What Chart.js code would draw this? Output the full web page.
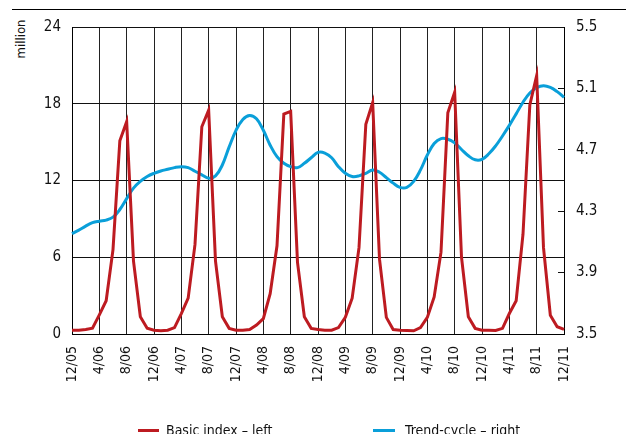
<!DOCTYPE html>
<html>
<head>
<meta charset="utf-8">
<script src="https://cdn.jsdelivr.net/npm/chart.js@4/dist/chart.umd.min.js"></script>
<style>
  html, body { margin: 0; padding: 0; background: #fff; overflow: hidden; }
  body { width: 626px; height: 434px; position: relative; font-family: "Liberation Sans Narrow", "Arial Narrow", "DejaVu Sans Condensed", sans-serif; }
  #rule { position: absolute; left: 12px; right: 0; top: 9px; border-top: 1px solid #000; }
  #unit { position: absolute; left: 20px; top: 39px; font-size: 13px; color: #111;
          transform: translate(-50%, -50%) rotate(-90deg); white-space: nowrap; }
  #wrap { position: absolute; left: 0; top: 0; width: 626px; height: 434px; }
  .leg { position: absolute; top: 422px; font-size: 14px; color: #111; white-space: nowrap; }
  .sw { position: absolute; height: 3px; top: 429px; }
</style>
</head>
<body>
<div id="rule"></div>
<div id="unit">million</div>
<div id="wrap"><canvas id="chart"></canvas></div>
<div class="sw" style="left:138px;width:21px;background:#BD1B21"></div>
<div class="leg" style="left:166px">Basic index – left</div>
<div class="sw" style="left:373px;width:22px;background:#0A9FD9"></div>
<div class="leg" style="left:405px">Trend-cycle – right</div>
<script>
// monthly, 12/05 .. 12/11
const tickLabels = ['12/05', '4/06', '8/06', '12/06', '4/07', '8/07', '12/07', '4/08', '8/08', '12/08',
    '4/09', '8/09', '12/09', '4/10', '8/10', '12/10', '4/11', '8/11', '12/11'];

const months = [];
for (let i = 0; i <= 72; i++) {
    const m = (11 + i) % 12 + 1;
    const y = 5 + Math.floor((11 + i) / 12);
    months.push(m + '/' + String(y).padStart(2, '0'));
}

// Basic index - left axis (million)
const basicIndex = [
    0.3, 0.3, 0.35, 0.45, 1.5, 2.6, 6.6, 15.1, 16.6, 5.7, 1.35, 0.45,
    0.3, 0.25, 0.3, 0.5, 1.6, 2.8, 7.0, 16.2, 17.5, 5.7, 1.35, 0.44,
    0.3, 0.3, 0.35, 0.7, 1.2, 3.15, 6.9, 17.2, 17.4, 5.6, 1.35, 0.44,
    0.35, 0.3, 0.3, 0.5, 1.3, 2.8, 6.75, 16.4, 18.1, 5.85, 1.3, 0.35,
    0.3, 0.28, 0.25, 0.5, 1.3, 2.9, 6.4, 17.3, 18.9, 6.0, 1.35, 0.44,
    0.3, 0.3, 0.28, 0.44, 1.6, 2.6, 7.8, 17.9, 20.2, 6.75, 1.47, 0.57, 0.36
];

// Trend-cycle - right axis
const trendCycle = [
    4.154, 4.177, 4.203, 4.225, 4.235, 4.242, 4.261, 4.311, 4.382, 4.45, 4.494, 4.526,
    4.547, 4.562, 4.573, 4.584, 4.59, 4.584, 4.56, 4.537, 4.515, 4.53, 4.601, 4.719,
    4.827, 4.898, 4.924, 4.902, 4.827, 4.73, 4.655, 4.612, 4.59, 4.584, 4.612, 4.648,
    4.683, 4.679, 4.648, 4.59, 4.547, 4.526, 4.53, 4.547, 4.569, 4.554, 4.519, 4.483,
    4.455, 4.455, 4.494, 4.569, 4.666, 4.741, 4.773, 4.769, 4.745, 4.702, 4.661, 4.635,
    4.638, 4.674, 4.726, 4.79, 4.859, 4.934, 5.01, 5.07, 5.104, 5.117, 5.106, 5.079, 5.042
];

const FONT = '"Liberation Sans Narrow", "Arial Narrow", "DejaVu Sans Condensed", sans-serif';

new Chart(document.getElementById('chart'), {
    type: 'line',
    data: {
        labels: months,
        datasets: [{
            label: 'Basic index – left',
            data: basicIndex,
            borderColor: '#BD1B21',
            borderWidth: 3,
            pointRadius: 0,
            tension: 0,
            yAxisID: 'y'
        }, {
            label: 'Trend-cycle – right',
            data: trendCycle,
            borderColor: '#0A9FD9',
            borderWidth: 3,
            pointRadius: 0,
            tension: 0.4,
            yAxisID: 'y2'
        }]
    },
    options: {
        responsive: true,
        maintainAspectRatio: false,
        animation: false,
        layout: { padding: { top: 24, left: 0, right: 0, bottom: 0 } },
        plugins: {
            legend: { display: false },
            tooltip: { enabled: false }
        },
        scales: {
            x: {
                grid: {
                    color: ctx => ctx.index % 4 === 0 ? '#222' : 'rgba(0,0,0,0)',
                    drawTicks: false
                },
                border: { color: '#000', width: 1 },
                ticks: {
                    autoSkip: false,
                    minRotation: 90,
                    maxRotation: 90,
                    padding: 12,
                    color: '#111',
                    font: { family: FONT, size: 14 },
                    callback: (v, i) => i % 4 === 0 ? tickLabels[i / 4] : ''
                },
                afterFit: s => { s.height = 100; }
            },
            y: {
                position: 'left',
                min: 0,
                max: 24,
                grid: { color: '#111', drawTicks: false },
                border: { color: '#000', width: 1 },
                ticks: {
                    stepSize: 6,
                    padding: 11,
                    color: '#111',
                    font: { family: FONT, size: 15 }
                },
                afterFit: s => { s.width = 72; }
            },
            y2: {
                position: 'right',
                min: 3.5,
                max: 5.5,
                grid: { drawOnChartArea: false, color: '#111', tickLength: -6 },
                border: { color: '#000', width: 1 },
                ticks: {
                    stepSize: 0.4,
                    padding: 18,
                    color: '#111',
                    font: { family: FONT, size: 15 },
                    callback: v => v.toFixed(1)
                },
                afterFit: s => { s.width = 62; }
            }
        }
    }
});
</script>
</body>
</html>
